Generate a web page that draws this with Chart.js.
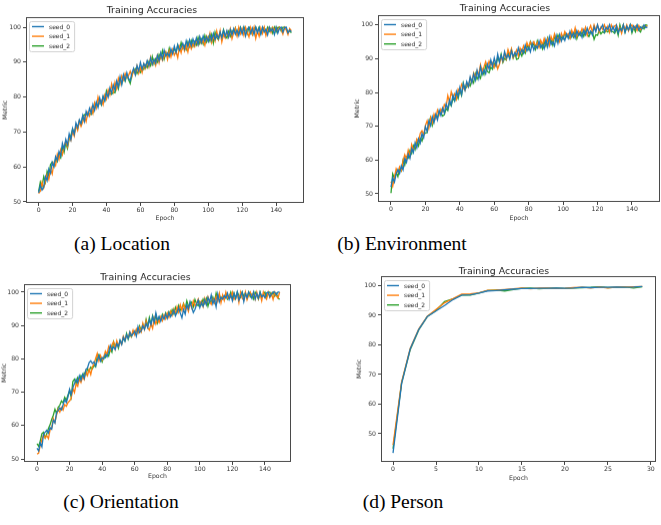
<!DOCTYPE html>
<html>
<head>
<meta charset="utf-8">
<script src="https://cdn.jsdelivr.net/npm/chart.js@4.4.0/dist/chart.umd.min.js"></script>
<style>
  html, body { margin: 0; padding: 0; background: #fff; width: 661px; height: 525px; overflow: hidden; }
  .panel { position: absolute; }
  .cap { position: absolute; font-family: 'Liberation Serif', 'Times New Roman', serif; font-size: 19.5px; line-height: 1; color: #000; transform: translateX(-50%); white-space: nowrap; }
</style>
</head>
<body>
<div class="panel" id="wrapA"><canvas id="chartA"></canvas></div>
<div class="panel" id="wrapB"><canvas id="chartB"></canvas></div>
<div class="panel" id="wrapC"><canvas id="chartC"></canvas></div>
<div class="panel" id="wrapD"><canvas id="chartD"></canvas></div>
<div class="cap" style="left:122px; top:234px;">(a) Location</div>
<div class="cap" style="left:402px; top:234px;">(b) Environment</div>
<div class="cap" style="left:121px; top:492px;">(c) Orientation</div>
<div class="cap" style="left:403px; top:492px;">(d) Person</div>
<script>
const seedLabels = ['seed_0', 'seed_1', 'seed_2'];
const epochTicks = [0, 20, 40, 60, 80, 100, 120, 140];
const personEpochTicks = [0, 5, 10, 15, 20, 25, 30];
const metricTicks = [50, 60, 70, 80, 90, 100];

// (a) Location
const locSeed0 = [
  52.6, 54.8, 53.4, 54.2, 57.3, 56.1, 59.4, 58.2, 61.3, 60.1,
  63.0, 61.9, 64.4, 63.2, 66.8, 65.1, 67.9, 66.4, 69.5, 67.8,
  71.0, 69.4, 72.6, 71.3, 73.5, 72.4, 74.8, 73.0, 75.9, 74.7,
  76.8, 75.4, 77.9, 76.2, 78.6, 77.1, 79.8, 78.0, 80.3, 78.9,
  81.2, 80.0, 82.6, 81.1, 83.5, 82.0, 84.6, 82.9, 85.8, 83.6,
  86.4, 84.8, 87.0, 85.3, 84.7, 86.9, 88.2, 86.4, 89.0, 87.5,
  89.9, 88.0, 89.6, 88.6, 90.4, 89.0, 91.2, 89.4, 90.8, 89.7,
  91.9, 90.4, 92.7, 90.9, 93.4, 91.8, 92.6, 91.6, 93.8, 92.4,
  94.6, 92.8, 95.0, 93.4, 94.2, 95.4, 93.8, 96.1, 94.5, 96.4,
  94.7, 96.6, 95.1, 96.9, 95.0, 97.3, 95.6, 97.5, 96.0, 97.2,
  95.9, 97.8, 96.3, 98.2, 96.5, 97.9, 96.8, 98.6, 97.0, 99.1,
  97.4, 99.0, 97.2, 99.3, 97.8, 99.6, 98.0, 99.2, 97.6, 99.8,
  98.1, 100.0, 97.5, 99.4, 100.0, 98.2, 99.7, 97.9, 100.0, 98.4,
  99.8, 98.0, 100.0, 98.6, 99.4, 97.8, 100.0, 98.9, 99.6, 97.9,
  100.0, 98.3, 99.7, 100.0, 98.6, 99.9, 100.0, 98.4, 99.2, 98.7
];
const locSeed1 = [
  52.4, 53.1, 55.6, 54.0, 55.9, 57.8, 56.4, 59.3, 58.0, 61.2,
  60.4, 63.6, 62.1, 64.9, 63.5, 66.0, 67.4, 65.8, 68.6, 67.6,
  70.1, 68.8, 71.9, 70.5, 73.1, 71.6, 72.9, 74.3, 73.0, 75.6,
  74.6, 76.9, 75.3, 78.4, 76.9, 80.0, 78.2, 79.1, 77.8, 80.6,
  79.4, 82.1, 80.6, 83.7, 81.5, 84.2, 82.4, 85.4, 83.8, 86.1,
  84.9, 86.8, 85.6, 86.2, 87.4, 85.9, 88.0, 86.5, 88.9, 86.8,
  88.4, 87.0, 89.5, 88.2, 90.2, 88.6, 91.4, 89.3, 90.6, 89.1,
  91.8, 89.8, 92.3, 90.5, 91.6, 92.9, 90.8, 93.2, 91.5, 93.6,
  92.0, 93.1, 91.3, 94.4, 92.7, 95.0, 93.2, 94.8, 92.9, 95.5,
  93.8, 95.2, 94.4, 96.3, 95.0, 97.0, 95.4, 96.2, 94.8, 97.4,
  96.1, 98.3, 95.6, 97.4, 96.0, 98.9, 96.6, 99.0, 95.8, 97.9,
  96.9, 98.8, 97.3, 99.5, 96.7, 98.4, 99.7, 97.5, 100.0, 98.1,
  99.6, 97.7, 100.0, 98.6, 97.2, 99.9, 98.0, 100.0, 96.8, 99.0,
  97.4, 99.8, 98.2, 100.0, 97.6, 99.3, 100.0, 98.5, 100.0, 99.1,
  100.0, 98.7, 100.0, 99.4, 98.0, 100.0, 99.2, 97.9, 99.6, 99.0
];
const locSeed2 = [
  53.0, 55.7, 54.4, 57.2, 55.6, 58.8, 57.4, 60.7, 61.4, 60.2,
  62.2, 61.5, 63.4, 62.6, 65.6, 64.2, 66.9, 65.3, 68.1, 69.0,
  70.8, 69.6, 71.5, 70.9, 73.2, 72.1, 74.5, 75.0, 74.9, 75.1,
  75.3, 75.0, 75.6, 76.8, 78.3, 77.4, 78.9, 77.8, 80.1, 79.0,
  81.9, 80.9, 81.0, 80.8, 81.4, 81.2, 83.6, 82.3, 85.1, 83.9,
  85.9, 84.6, 86.3, 85.0, 83.9, 86.4, 87.3, 88.1, 86.7, 87.8,
  87.1, 88.6, 87.9, 89.2, 88.4, 90.1, 89.0, 91.6, 89.5, 91.0,
  90.0, 92.2, 91.1, 93.3, 90.9, 92.8, 91.7, 94.0, 92.2, 93.1,
  93.8, 92.6, 94.9, 93.5, 95.6, 93.9, 94.7, 93.6, 95.8, 94.4,
  96.2, 94.5, 95.9, 94.9, 97.1, 95.3, 96.6, 95.2, 97.6, 95.8,
  97.3, 96.0, 97.9, 95.5, 98.6, 97.0, 96.4, 98.2, 97.1, 99.3,
  97.7, 96.9, 98.8, 97.4, 99.0, 98.3, 99.8, 97.8, 98.9, 100.0,
  98.5, 100.0, 99.2, 98.1, 100.0, 99.4, 97.9, 99.6, 100.0, 98.8,
  100.0, 98.2, 99.5, 99.9, 98.4, 100.0, 98.8, 99.7, 98.3, 100.0,
  98.6, 99.9, 100.0, 98.9, 100.0, 100.0, 99.5, 98.6, 98.9, 98.4
];

// (b) Environment
const envSeed0 = [
  52.0, 54.8, 53.5, 55.9, 57.2, 56.0, 58.3, 57.1, 60.4, 59.3,
  61.8, 60.5, 63.4, 62.2, 65.1, 63.6, 66.3, 65.0, 67.8, 66.6,
  69.9, 68.5, 71.6, 70.2, 72.8, 71.1, 73.5, 71.9, 74.7, 73.2,
  75.4, 73.9, 76.6, 75.1, 77.8, 76.3, 79.2, 77.6, 80.3, 78.8,
  81.5, 79.4, 82.6, 80.7, 83.2, 81.8, 84.6, 82.9, 85.4, 83.6,
  86.5, 84.2, 87.6, 85.3, 86.7, 85.5, 88.4, 86.9, 89.6, 87.7,
  90.2, 88.1, 91.3, 89.0, 91.0, 89.4, 92.1, 90.2, 91.2, 89.9,
  92.3, 90.6, 91.8, 91.0, 93.2, 91.4, 92.7, 91.6, 94.0, 92.3,
  93.4, 92.0, 94.5, 92.6, 93.8, 93.1, 95.2, 93.3, 94.1, 92.9,
  95.6, 93.5, 96.4, 94.2, 95.0, 93.8, 96.8, 94.6, 97.1, 95.2,
  96.6, 95.4, 97.3, 96.0, 98.1, 96.4, 97.6, 96.1, 98.3, 96.9,
  97.8, 96.3, 98.5, 97.1, 99.0, 97.4, 98.2, 97.0, 99.4, 98.0,
  100.0, 98.3, 99.1, 100.0, 97.9, 99.3, 98.6, 100.0, 98.1, 99.5,
  98.0, 99.8, 97.6, 99.0, 98.3, 100.0, 97.8, 99.6, 98.5, 100.0,
  98.2, 99.7, 98.8, 100.0, 98.5, 99.4, 98.9, 100.0, 99.2, 99.4
];
const envSeed1 = [
  53.6, 52.2, 54.9, 57.4, 56.4, 58.0, 56.9, 59.8, 61.6, 60.3,
  62.9, 61.2, 64.6, 63.0, 64.1, 66.2, 65.4, 67.9, 68.7, 67.5,
  70.2, 71.6, 69.4, 72.5, 71.0, 73.6, 72.3, 74.8, 73.4, 75.1,
  74.3, 76.4, 75.7, 79.1, 77.2, 80.2, 78.5, 79.6, 78.0, 81.0,
  80.2, 82.4, 81.3, 80.6, 82.9, 81.7, 84.2, 83.1, 85.8, 84.5,
  86.4, 85.3, 88.2, 86.1, 87.5, 89.1, 87.4, 89.3, 88.0, 88.8,
  87.4, 89.1, 87.0, 88.3, 90.5, 89.2, 91.6, 90.0, 92.7, 91.1,
  92.9, 90.3, 91.4, 92.6, 90.8, 93.1, 91.9, 93.8, 92.4, 94.7,
  93.4, 94.9, 94.2, 95.0, 93.6, 94.8, 93.3, 95.4, 94.1, 96.0,
  94.4, 95.8, 93.9, 96.6, 95.1, 97.3, 95.6, 96.2, 95.0, 97.5,
  96.2, 98.0, 96.8, 97.4, 96.1, 98.4, 97.0, 99.1, 96.6, 98.2,
  97.4, 98.9, 97.8, 99.3, 96.9, 98.6, 99.8, 97.9, 100.0, 98.5,
  100.0, 97.9, 99.4, 98.7, 100.0, 98.3, 99.6, 97.8, 100.0, 98.8,
  99.7, 100.0, 98.4, 99.2, 97.5, 99.9, 98.6, 100.0, 98.2, 99.5,
  100.0, 98.9, 99.6, 98.4, 99.8, 98.7, 99.1, 99.8, 99.4, 99.8
];
const envSeed2 = [
  50.2, 55.9, 54.6, 56.3, 55.1, 57.5, 56.8, 59.9, 58.5, 61.0,
  60.6, 62.8, 61.9, 64.3, 63.1, 65.6, 64.2, 66.4, 65.6, 67.5,
  68.0, 68.1, 70.9, 72.6, 70.2, 71.8, 73.2, 72.5, 74.4, 73.9,
  73.0, 73.4, 75.2, 74.6, 77.0, 76.1, 78.3, 77.5, 79.4, 78.2,
  80.6, 79.1, 82.8, 81.0, 81.6, 82.5, 81.9, 83.8, 82.8, 85.6,
  83.9, 85.1, 84.2, 86.7, 85.3, 87.9, 86.2, 85.8, 87.5, 86.9,
  88.6, 87.8, 90.4, 89.2, 91.3, 88.9, 90.1, 89.6, 92.1, 90.3,
  92.6, 90.2, 91.6, 89.8, 90.0, 91.9, 90.8, 92.4, 91.6, 94.1,
  92.8, 95.0, 93.5, 94.6, 92.8, 95.2, 93.6, 94.4, 92.9, 95.1,
  93.7, 96.1, 94.3, 95.5, 94.0, 96.7, 95.2, 97.0, 95.6, 96.4,
  95.8, 97.6, 96.5, 97.1, 96.0, 97.8, 96.4, 98.1, 95.9, 97.5,
  96.8, 97.9, 96.6, 98.3, 97.2, 96.5, 97.8, 98.0, 95.7, 97.1,
  96.9, 98.4, 97.3, 98.0, 97.6, 98.3, 97.9, 98.6, 98.1, 98.0,
  97.5, 98.9, 96.9, 100.0, 98.2, 100.0, 97.8, 99.3, 98.6, 100.0,
  97.6, 99.2, 98.0, 99.8, 98.4, 97.9, 99.5, 98.8, 100.0, 99.9
];

// (c) Orientation
const oriSeed0 = [
  53.2, 52.4, 54.8, 53.6, 57.4, 58.0, 58.6, 57.8, 59.4, 58.9,
  61.6, 60.8, 63.9, 64.5, 65.3, 64.7, 66.2, 67.8, 66.9, 68.6,
  70.9, 69.3, 71.4, 72.6, 73.9, 72.8, 74.9, 73.6, 75.4, 74.2,
  76.8, 77.3, 78.9, 79.4, 78.6, 79.1, 77.9, 79.5, 80.9, 79.3,
  80.4, 80.0, 81.3, 80.6, 82.1, 84.0, 82.7, 83.6, 82.8, 84.5,
  83.7, 85.6, 84.3, 86.5, 85.3, 87.2, 86.1, 88.0, 86.9, 87.5,
  88.3, 86.8, 89.6, 87.9, 88.4, 89.9, 88.8, 90.6, 89.4, 91.7,
  90.2, 92.6, 90.9, 93.8, 91.6, 92.7, 91.3, 92.9, 91.9, 93.4,
  92.1, 93.8, 92.6, 93.4, 94.6, 92.9, 94.0, 95.3, 93.7, 92.3,
  94.8, 93.4, 96.2, 95.0, 97.1, 95.5, 93.9, 94.8, 96.3, 97.6,
  95.4, 96.9, 95.8, 97.7, 96.2, 98.4, 97.0, 99.1, 96.5, 97.8,
  95.6, 99.4, 97.1, 98.5, 97.9, 99.0, 98.2, 99.7, 97.8, 99.2,
  97.4, 99.6, 98.1, 100.0, 97.6, 98.9, 100.0, 97.2, 99.5, 98.4,
  100.0, 99.3, 98.1, 100.0, 97.9, 99.6, 98.2, 100.0, 98.6, 99.1,
  98.3, 99.8, 100.0, 98.6, 99.4, 100.0, 100.0, 99.2, 100.0, 100.0
];
const oriSeed1 = [
  51.5, 51.7, 54.2, 55.8, 57.2, 56.3, 57.0, 56.1, 58.7, 59.2,
  62.1, 60.9, 63.2, 64.9, 64.0, 65.4, 64.6, 66.3, 65.8, 66.9,
  67.4, 68.2, 71.2, 69.9, 72.5, 71.8, 74.0, 72.9, 74.6, 73.8,
  76.3, 75.0, 76.8, 75.3, 77.6, 78.4, 80.1, 81.6, 79.4, 81.0,
  79.6, 80.5, 82.3, 81.4, 83.7, 82.5, 84.2, 85.1, 83.0, 85.4,
  83.8, 85.0, 84.4, 86.8, 85.7, 87.0, 86.3, 88.1, 86.8, 88.6,
  87.2, 88.9, 87.7, 89.3, 88.1, 90.7, 88.9, 91.4, 89.3, 88.6,
  90.5, 89.1, 92.2, 90.4, 91.8, 90.9, 92.6, 91.4, 93.1, 92.0,
  93.7, 92.4, 94.3, 93.0, 94.9, 93.4, 95.6, 94.0, 96.2, 94.5,
  96.4, 94.9, 95.7, 94.2, 96.8, 95.3, 97.4, 95.9, 96.6, 97.9,
  96.0, 97.3, 95.7, 98.1, 96.4, 98.6, 97.1, 96.3, 98.0, 96.8,
  98.7, 97.2, 99.6, 96.8, 99.1, 97.5, 100.0, 98.3, 99.0, 98.4,
  100.0, 97.8, 98.6, 99.5, 96.9, 100.0, 98.2, 97.6, 100.0, 97.7,
  99.1, 100.0, 98.5, 99.8, 97.9, 100.0, 98.0, 99.4, 97.4, 100.0,
  98.7, 97.9, 100.0, 98.4, 99.6, 97.8, 100.0, 98.9, 98.2, 100.0
];
const oriSeed2 = [
  54.6, 53.8, 55.4, 57.6, 58.0, 56.3, 57.5, 59.1, 60.2, 61.8,
  63.1, 64.9, 63.6, 65.5, 66.1, 67.4, 66.8, 68.5, 67.6, 69.1,
  70.4, 68.5, 73.2, 73.9, 72.6, 74.4, 73.5, 75.0, 74.3, 75.8,
  75.2, 76.9, 76.4, 77.5, 77.0, 78.1, 77.6, 80.9, 81.3, 80.2,
  79.1, 80.6, 80.4, 81.5, 80.8, 82.9, 82.0, 85.1, 83.6, 84.8,
  83.2, 85.5, 84.6, 86.2, 85.4, 87.6, 85.9, 87.3, 86.6, 88.2,
  87.4, 88.6, 87.9, 89.8, 88.4, 90.3, 89.1, 91.8, 89.8, 92.4,
  90.4, 92.9, 91.2, 93.1, 90.8, 92.5, 91.6, 93.3, 92.2, 93.8,
  92.6, 94.1, 93.0, 94.7, 93.5, 95.4, 94.1, 96.0, 94.6, 95.2,
  96.6, 95.0, 97.4, 95.8, 96.2, 97.0, 95.6, 97.8, 96.4, 95.9,
  97.2, 96.3, 97.9, 96.6, 98.1, 95.8, 97.6, 96.9, 98.5, 97.0,
  99.7, 97.8, 99.2, 97.6, 98.8, 98.0, 99.5, 97.9, 98.6, 100.0,
  98.3, 99.7, 98.1, 100.0, 99.0, 98.4, 100.0, 98.7, 99.8, 98.2,
  100.0, 98.6, 99.4, 98.0, 100.0, 99.1, 97.9, 100.0, 98.4, 99.3,
  100.0, 98.5, 99.9, 100.0, 99.0, 100.0, 98.8, 99.6, 98.3, 97.8
];

// (d) Person
const perSeed0 = [43.5, 67.0, 78.6, 85.2, 89.6, 91.4, 93.3, 95.3, 96.8, 96.9,
  97.5, 98.2, 98.3, 98.6, 98.8, 99.0, 99.0, 99.1, 99.1, 99.2,
  99.1, 99.2, 99.4, 99.3, 99.4, 99.4, 99.5, 99.4, 99.5, 99.7];
const perSeed1 = [46.2, 67.5, 78.8, 85.4, 89.7, 91.9, 94.2, 95.6, 97.1, 97.2,
  97.6, 98.4, 98.5, 98.7, 98.9, 99.2, 98.9, 99.2, 99.2, 99.0,
  99.1, 99.3, 99.4, 99.2, 99.5, 99.2, 99.5, 99.5, 99.6, 99.7];
const perSeed2 = [45.0, 67.2, 78.4, 85.1, 89.6, 91.6, 94.6, 95.5, 96.8, 96.8,
  97.5, 98.3, 98.5, 98.2, 98.7, 99.1, 99.2, 98.9, 99.1, 99.2,
  99.0, 99.2, 99.3, 99.4, 99.6, 99.3, 99.4, 99.5, 99.2, 99.6];

const seedColors = ['#1f77b4', '#ff7f0e', '#2ca02c'];
const FONT = "'DejaVu Sans', sans-serif";

// frame (all four spines) + matplotlib style legend
const mplPlugin = {
  id: 'mpl',
  afterDatasetsDraw(chart) {
    const ctx = chart.ctx;
    const a = chart.chartArea;
    ctx.save();
    ctx.strokeStyle = '#4a4a4a';
    ctx.lineWidth = 1;
    ctx.strokeRect(Math.round(a.left) + 0.5, Math.round(a.top) + 0.5,
      Math.round(a.right - a.left) - 1, Math.round(a.bottom - a.top) - 1);

    ctx.font = '6px ' + FONT;
    let tw = 0;
    chart.data.datasets.forEach(ds => { tw = Math.max(tw, ctx.measureText(ds.label).width); });
    const lx = a.left + 3, ly = a.top + 4;
    const lw = tw + 24, lh = 30;
    ctx.fillStyle = 'rgba(255,255,255,0.85)';
    ctx.strokeStyle = '#d2d2d2';
    ctx.beginPath();
    ctx.roundRect(lx + 0.5, ly + 0.5, lw, lh, 2);
    ctx.fill();
    ctx.stroke();
    ctx.textBaseline = 'middle';
    chart.data.datasets.forEach((ds, i) => {
      const y = ly + 5.5 + i * 9.6;
      ctx.strokeStyle = ds.borderColor;
      ctx.lineWidth = 1.4;
      ctx.beginPath();
      ctx.moveTo(lx + 3, y);
      ctx.lineTo(lx + 15, y);
      ctx.stroke();
      ctx.fillStyle = '#262626';
      ctx.fillText(ds.label, lx + 20, y + 0.5);
    });
    ctx.restore();
  }
};

function makeChart(p) {
  const wrap = document.getElementById(p.wrap);
  const width = p.boxR - p.L + 1;
  const bottom = p.epochY + 5.6;
  const height = bottom - p.T;
  wrap.style.left = p.L + 'px';
  wrap.style.top = p.T + 'px';
  wrap.style.width = width + 'px';
  wrap.style.height = height + 'px';

  const titleSize = 9.4;
  const titleLH = titleSize * 0.85;
  const tPadTop = p.titleY - p.T - titleLH / 2;
  const tPadBottom = Math.max(0, p.boxT - p.titleY - titleLH / 2);

  const datasets = p.series.map((vals, i) => ({
    label: seedLabels[i],
    data: vals.map((v, e) => ({ x: e, y: v })),
    borderColor: seedColors[i],
    backgroundColor: seedColors[i],
    borderWidth: 1.3,
    pointRadius: 0,
    tension: 0,
    fill: false
  }));

  const tickFont = { family: FONT, size: 6.2 };
  new Chart(document.getElementById(p.id), {
    type: 'line',
    data: { datasets },
    options: {
      responsive: true,
      maintainAspectRatio: false,
      animation: false,
      layout: { padding: { left: 0, right: 1, top: 0, bottom: 0 } },
      plugins: {
        legend: { display: false },
        tooltip: { enabled: false },
        title: {
          display: true,
          text: 'Training Accuracies',
          color: '#222',
          font: { family: FONT, size: titleSize, weight: 'normal', lineHeight: 0.85 },
          padding: { top: tPadTop, bottom: tPadBottom }
        }
      },
      scales: {
        x: {
          type: 'linear',
          min: p.xMin,
          max: p.xMax,
          afterBuildTicks: s => { s.ticks = p.xTicks.map(v => ({ value: v })); },
          afterFit: s => { s.height = bottom - p.boxB; },
          grid: { display: true, drawOnChartArea: false, drawTicks: true, tickLength: 3, color: '#444' },
          border: { display: false },
          ticks: { font: tickFont, color: '#333', padding: 1, maxRotation: 0, autoSkip: false },
          title: { display: true, text: 'Epoch', color: '#333', font: tickFont, padding: { top: 0, bottom: 2 } }
        },
        y: {
          type: 'linear',
          min: p.yMin,
          max: p.yMax,
          afterBuildTicks: s => { s.ticks = metricTicks.map(v => ({ value: v })); },
          afterFit: s => { s.width = p.boxL - p.L; },
          grid: { display: true, drawOnChartArea: false, drawTicks: true, tickLength: 3, color: '#444' },
          border: { display: false },
          ticks: { font: tickFont, color: '#333', padding: 2, autoSkip: false },
          title: { display: true, text: 'Metric', color: '#333', font: tickFont, padding: { top: Math.max(0, p.metricX - p.L - 3.7), bottom: 0 } }
        }
      }
    },
    plugins: [mplPlugin]
  });
}

const panels = [
  { id: 'chartA', wrap: 'wrapA', series: [locSeed0, locSeed1, locSeed2], xTicks: epochTicks,
    L: 0, T: 0, boxL: 26, boxT: 17, boxR: 304, boxB: 202, metricX: 5, titleY: 11, epochY: 218,
    xMin: -7.45, xMax: 156.45, yMin: 49.7, yMax: 102.9 },
  { id: 'chartB', wrap: 'wrapB', series: [envSeed0, envSeed1, envSeed2], xTicks: epochTicks,
    L: 350, T: 0, boxL: 378, boxT: 15, boxR: 660, boxB: 201, metricX: 357, titleY: 9, epochY: 218,
    xMin: -7.55, xMax: 156.3, yMin: 47.6, yMax: 102.9 },
  { id: 'chartC', wrap: 'wrapC', series: [oriSeed0, oriSeed1, oriSeed2], xTicks: epochTicks,
    L: 0, T: 262, boxL: 24, boxT: 284, boxR: 291, boxB: 461, metricX: 4, titleY: 278, epochY: 476,
    xMin: -8.0, xMax: 156.0, yMin: 49.1, yMax: 102.4 },
  { id: 'chartD', wrap: 'wrapD', series: [perSeed0, perSeed1, perSeed2], xTicks: personEpochTicks,
    L: 352, T: 262, boxL: 381, boxT: 276, boxR: 656, boxB: 461, metricX: 359, titleY: 272, epochY: 478,
    xMin: -1.4, xMax: 30.6, yMin: 40.5, yMax: 103.2 }
];

panels.forEach(makeChart);
</script>
</body>
</html>
